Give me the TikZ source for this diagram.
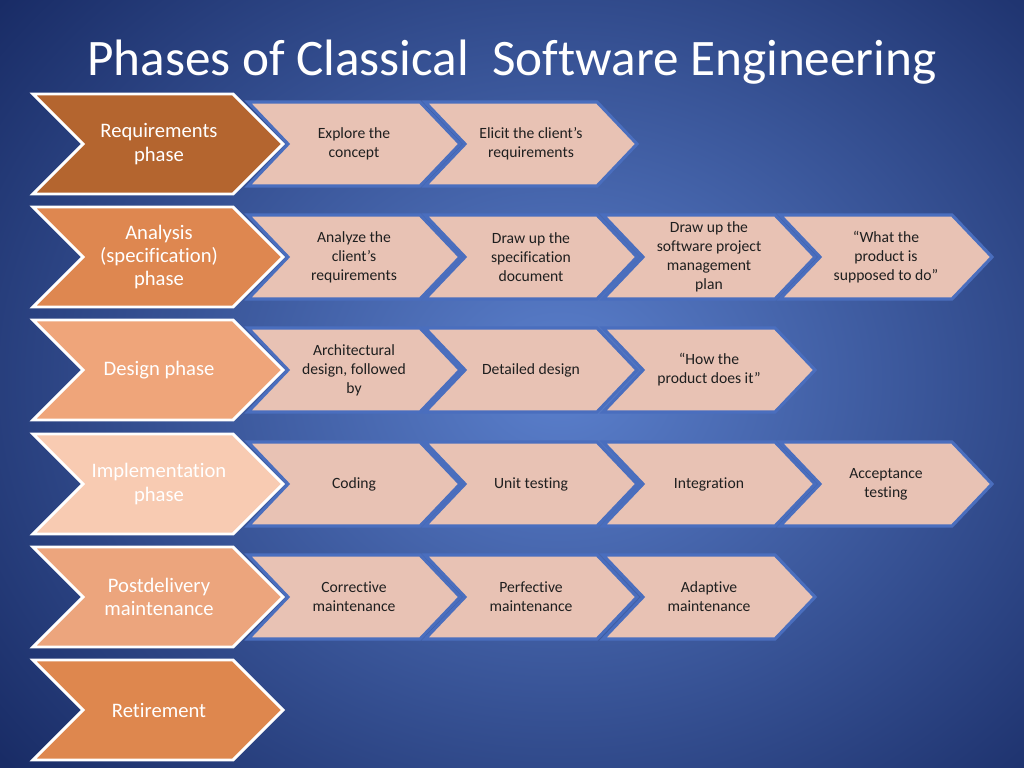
\documentclass[tikz,border=0pt]{standalone}
\usepackage{fontspec}
\setmainfont{Carlito}[Ligatures=NoCommon]
\usepackage{xcolor}

\definecolor{bgdark}{HTML}{192C66}
\definecolor{bglight}{HTML}{5B80CD}
\definecolor{reqcol}{HTML}{B4652F}
\definecolor{anacol}{HTML}{DE8750}
\definecolor{descol}{HTML}{EFA57A}
\definecolor{impcol}{HTML}{F8CBB2}
\definecolor{postcol}{HTML}{ECA57D}
\definecolor{retcol}{HTML}{DE874E}
\definecolor{taskfill}{HTML}{E8C2B4}
\definecolor{taskline}{HTML}{4A6EBE}

\tikzset{
  phase/.style={draw=white, line width=2pt, line join=miter},
  phasetext/.style={text=white, align=center, font=\fontsize{14.5}{16.5}\selectfont},
  task/.style={draw=taskline, fill=taskfill, line width=2.2pt, line join=miter},
  tasktext/.style={text=black!88, align=center, font=\fontsize{11}{13.3}\selectfont},
}

% phase chevron: name, y centre, colour, text
\newcommand{\phasechev}[4]{%
  \draw[phase, fill=#3] (33,#2-50) -- (233,#2-50) -- (283,#2) -- (233,#2+50) -- (33,#2+50) -- (83,#2) -- cycle;
  \node[phasetext] (#1) at (159,#2) {#4};}
% task chevron: name, left x, y centre, text
\newcommand{\taskchev}[4]{%
  \draw[task] (#2,#3-42) -- (#2+172,#3-42) -- (#2+212,#3) -- (#2+172,#3+42) -- (#2,#3+42) -- (#2+40,#3) -- cycle;
  \node[tasktext] (#1) at (#2+106,#3) {#4};}

\begin{document}
\begin{tikzpicture}[x=0.703125pt, y=-0.703125pt]
  \useasboundingbox (0,0) rectangle (1024,768);
  % background
  \shade[inner color=bglight, outer color=bgdark] (-160,-220) rectangle (1280,980);

  % title
  \node[text=white, font=\fontsize{36}{40}\selectfont] (title) at (512,62) {Phases of Classical~ Software Engineering};

  % requirements
  \taskchev{elicit}{425}{144}{Elicit the client’s\\requirements}
  \taskchev{explore}{248}{144}{Explore the\\concept}
  \phasechev{req}{144}{reqcol}{Requirements\\phase}

  % analysis
  \taskchev{what}{780}{257}{“What the\\product is\\supposed to do”}
  \taskchev{plan}{603}{257}{Draw up the\\software project\\management\\plan}
  \taskchev{spec}{425}{257}{Draw up the\\specification\\document}
  \taskchev{analyze}{248}{257}{Analyze the\\client’s\\requirements}
  \phasechev{ana}{257}{anacol}{Analysis\\(specification)\\phase}

  % design
  \taskchev{how}{603}{370}{“How the\\product does it”}
  \taskchev{detail}{425}{370}{Detailed design}
  \taskchev{arch}{248}{370}{Architectural\\design, followed\\by}
  \phasechev{des}{370}{descol}{Design phase}

  % implementation
  \taskchev{accept}{780}{484}{Acceptance\\testing}
  \taskchev{integ}{603}{484}{Integration}
  \taskchev{unit}{425}{484}{Unit testing}
  \taskchev{coding}{248}{484}{Coding}
  \phasechev{imp}{484}{impcol}{Implementation\\phase}

  % postdelivery
  \taskchev{adapt}{603}{597}{Adaptive\\maintenance}
  \taskchev{perf}{425}{597}{Perfective\\maintenance}
  \taskchev{corr}{248}{597}{Corrective\\maintenance}
  \phasechev{post}{597}{postcol}{Postdelivery\\maintenance}

  % retirement
  \phasechev{ret}{710}{retcol}{Retirement}
\end{tikzpicture}
\end{document}
